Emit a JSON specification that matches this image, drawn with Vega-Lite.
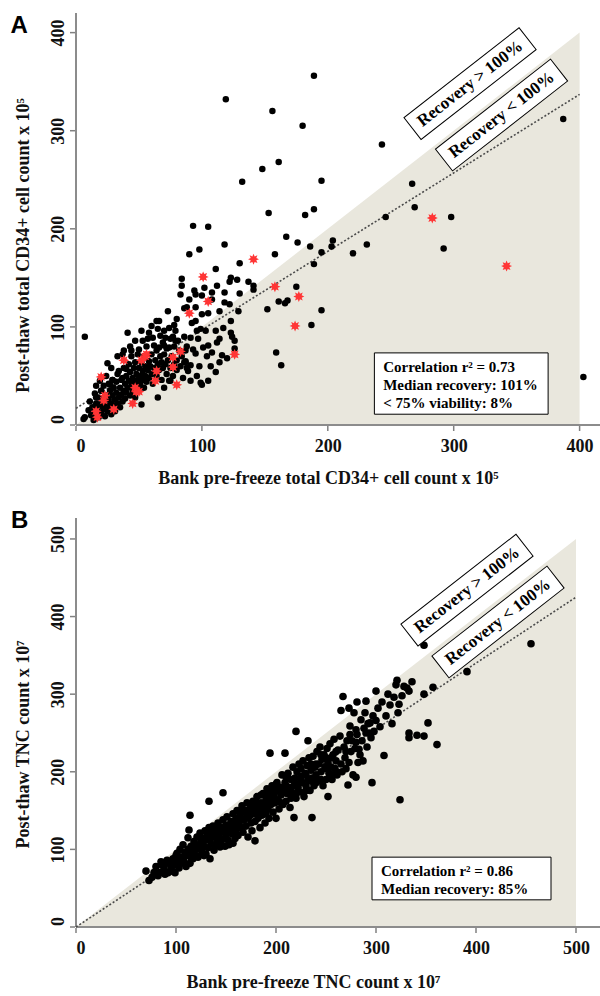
{
 "$schema": "https://vega.github.io/schema/vega-lite/v6.json",
 "background": "white",
 "padding": {"left": 10, "top": 12, "right": 0, "bottom": 0},
 "spacing": 22,
 "datasets": {
  "aTri": [{"x":0,"y":0},{"x":400,"y":400}],
  "aLine": [{"x":0,"y":17},{"x":400,"y":337}],
  "aAxisY": [{"x":0,"y":0,"y2":420}],
  "aAxisX": [{"x":0,"x2":417,"y":0}],
  "aTicksY": [{"x":0,"y":0},{"x":0,"y":100},{"x":0,"y":200},{"x":0,"y":300},{"x":0,"y":400}],
  "aTicksX": [{"x":0,"y":0},{"x":100,"y":0},{"x":200,"y":0},{"x":300,"y":0},{"x":400,"y":0}],
  "aPanel": [{"x":-52,"y":400,"label":"A"}],
  "bTri": [{"x":0,"y":0},{"x":500,"y":500}],
  "bLine": [{"x":0,"y":0},{"x":500,"y":425}],
  "bAxisY": [{"x":0,"y":0,"y2":527}],
  "bAxisX": [{"x":0,"x2":525,"y":0}],
  "bTicksY": [{"x":0,"y":0},{"x":0,"y":100},{"x":0,"y":200},{"x":0,"y":300},{"x":0,"y":400},{"x":0,"y":500}],
  "bTicksX": [{"x":0,"y":0},{"x":100,"y":0},{"x":200,"y":0},{"x":300,"y":0},{"x":400,"y":0},{"x":500,"y":0}],
  "bPanel": [{"x":-65,"y":514,"label":"B"}],
  "aAnn": [{"x":313,"y":348,"label":"Recovery > 100%"},{"x":338,"y":316,"label":"Recovery < 100%"}],
  "aStatBox": [{"x":237,"x2":375,"y":11,"y2":73.5}],
  "aStats": [{"x":244,"y":54,"label":"Correlation r² = 0.73"},{"x":244,"y":35.6,"label":"Median recovery: 101%"},{"x":244,"y":17.3,"label":"< 75% viability: 8%"}],
  "bAnn": [{"x":391,"y":434,"label":"Recovery > 100%"},{"x":422,"y":393,"label":"Recovery < 100%"}],
  "bStatBox": [{"x":296,"x2":475,"y":35,"y2":90}],
  "bStats": [{"x":305,"y":65.7,"label":"Correlation r² = 0.86"},{"x":305,"y":42.5,"label":"Median recovery: 85%"}],
  "aRed": [{"x":141,"y":169},{"x":101,"y":151},{"x":105,"y":126},{"x":90,"y":114},{"x":126,"y":72},{"x":83,"y":75},{"x":77,"y":69},{"x":77,"y":59},{"x":64,"y":55},{"x":63,"y":45},{"x":80,"y":41},{"x":55,"y":70},{"x":52,"y":66},{"x":38,"y":66},{"x":20,"y":49},{"x":47,"y":38},{"x":50,"y":34},{"x":23,"y":30},{"x":22,"y":25},{"x":45,"y":22},{"x":30,"y":16},{"x":16,"y":14},{"x":17,"y":8},{"x":158,"y":141},{"x":177,"y":131},{"x":174,"y":101},{"x":283,"y":211},{"x":342,"y":162},{"x":56,"y":72},{"x":48,"y":34}],
  "aBlack": [{"x":189,"y":356},{"x":119,"y":332},{"x":156,"y":320},{"x":180,"y":305},{"x":243,"y":286},{"x":161,"y":268},{"x":148,"y":261},{"x":132,"y":248},{"x":195,"y":249},{"x":153,"y":216},{"x":189,"y":220},{"x":182,"y":214},{"x":93,"y":203},{"x":105,"y":202},{"x":246,"y":212},{"x":167,"y":192},{"x":176,"y":186},{"x":204,"y":188},{"x":203,"y":182},{"x":186,"y":182},{"x":231,"y":184},{"x":118,"y":184},{"x":98,"y":179},{"x":90,"y":174},{"x":158,"y":174},{"x":195,"y":176},{"x":220,"y":175},{"x":267,"y":246},{"x":269,"y":222},{"x":298,"y":212},{"x":387,"y":312},{"x":292,"y":180},{"x":189,"y":164},{"x":175,"y":141},{"x":166,"y":124},{"x":168,"y":127},{"x":195,"y":117},{"x":187,"y":102},{"x":163,"y":61},{"x":159,"y":74},{"x":403,"y":49},{"x":130,"y":165},{"x":111,"y":159},{"x":123,"y":150},{"x":122,"y":146},{"x":128,"y":148},{"x":137,"y":146},{"x":141,"y":142},{"x":141,"y":138},{"x":84,"y":149},{"x":84,"y":142},{"x":83,"y":133},{"x":94,"y":137},{"x":95,"y":133},{"x":100,"y":132},{"x":108,"y":135},{"x":112,"y":142},{"x":118,"y":125},{"x":122,"y":123},{"x":130,"y":134},{"x":129,"y":116},{"x":114,"y":116},{"x":100,"y":113},{"x":105,"y":114},{"x":73,"y":116},{"x":86,"y":119},{"x":152,"y":118},{"x":161,"y":126},{"x":126,"y":86},{"x":126,"y":78},{"x":123,"y":94},{"x":124,"y":90},{"x":117,"y":99},{"x":123,"y":106},{"x":111,"y":96},{"x":114,"y":88},{"x":108,"y":74},{"x":116,"y":71},{"x":114,"y":64},{"x":111,"y":54},{"x":99,"y":43},{"x":100,"y":41},{"x":101,"y":79},{"x":105,"y":81},{"x":96,"y":96},{"x":99,"y":98},{"x":103,"y":96},{"x":92,"y":104},{"x":95,"y":106},{"x":87,"y":65},{"x":88,"y":58},{"x":79,"y":96},{"x":81,"y":86},{"x":7,"y":90},{"x":6,"y":6},{"x":91,"y":89},{"x":97,"y":88},{"x":87,"y":76},{"x":93,"y":77},{"x":95,"y":73},{"x":87,"y":64},{"x":91,"y":61},{"x":85,"y":48},{"x":64,"y":106},{"x":60,"y":101},{"x":65,"y":98},{"x":70,"y":96},{"x":74,"y":99},{"x":41,"y":94},{"x":57,"y":88},{"x":53,"y":86},{"x":61,"y":89},{"x":67,"y":91},{"x":71,"y":89},{"x":77,"y":90},{"x":79,"y":86},{"x":82,"y":76},{"x":50,"y":77},{"x":44,"y":76},{"x":37,"y":72},{"x":62,"y":81},{"x":66,"y":79},{"x":70,"y":81},{"x":74,"y":79},{"x":25,"y":63},{"x":34,"y":55},{"x":40,"y":57},{"x":27,"y":41},{"x":29,"y":46},{"x":37,"y":48},{"x":16,"y":40},{"x":20,"y":35},{"x":16,"y":28},{"x":17,"y":21},{"x":15,"y":16},{"x":7,"y":8},{"x":52,"y":21},{"x":65,"y":28},{"x":70,"y":38},{"x":75,"y":45},{"x":91,"y":45},{"x":12,"y":10},{"x":13,"y":18},{"x":14,"y":5},{"x":15,"y":12},{"x":16,"y":22},{"x":17,"y":15},{"x":18,"y":8},{"x":18,"y":28},{"x":19,"y":19},{"x":20,"y":12},{"x":20,"y":35},{"x":21,"y":24},{"x":22,"y":16},{"x":22,"y":40},{"x":23,"y":9},{"x":24,"y":20},{"x":24,"y":30},{"x":25,"y":14},{"x":26,"y":26},{"x":26,"y":42},{"x":27,"y":18},{"x":27,"y":35},{"x":28,"y":11},{"x":28,"y":22},{"x":29,"y":30},{"x":29,"y":46},{"x":30,"y":20},{"x":30,"y":38},{"x":31,"y":26},{"x":31,"y":14},{"x":32,"y":33},{"x":32,"y":44},{"x":33,"y":22},{"x":33,"y":52},{"x":34,"y":28},{"x":35,"y":18},{"x":35,"y":38},{"x":36,"y":31},{"x":36,"y":46},{"x":37,"y":24},{"x":38,"y":35},{"x":38,"y":58},{"x":39,"y":42},{"x":39,"y":27},{"x":40,"y":50},{"x":40,"y":33},{"x":41,"y":38},{"x":42,"y":45},{"x":42,"y":62},{"x":43,"y":30},{"x":43,"y":54},{"x":44,"y":40},{"x":44,"y":70},{"x":45,"y":48},{"x":45,"y":35},{"x":46,"y":58},{"x":46,"y":44},{"x":47,"y":28},{"x":47,"y":64},{"x":48,"y":52},{"x":48,"y":40},{"x":49,"y":72},{"x":49,"y":46},{"x":50,"y":36},{"x":50,"y":58},{"x":51,"y":50},{"x":51,"y":42},{"x":52,"y":64},{"x":53,"y":46},{"x":53,"y":55},{"x":54,"y":38},{"x":54,"y":70},{"x":55,"y":60},{"x":55,"y":50},{"x":56,"y":44},{"x":56,"y":80},{"x":57,"y":56},{"x":58,"y":65},{"x":58,"y":48},{"x":59,"y":60},{"x":60,"y":52},{"x":60,"y":72},{"x":61,"y":42},{"x":62,"y":58},{"x":63,"y":66},{"x":64,"y":50},{"x":64,"y":76},{"x":65,"y":62},{"x":66,"y":56},{"x":67,"y":70},{"x":68,"y":46},{"x":68,"y":64},{"x":69,"y":84},{"x":69,"y":58},{"x":70,"y":72},{"x":71,"y":62},{"x":72,"y":52},{"x":72,"y":78},{"x":73,"y":66},{"x":74,"y":45},{"x":75,"y":58},{"x":75,"y":88},{"x":76,"y":70},{"x":77,"y":50},{"x":78,"y":62},{"x":78,"y":80},{"x":80,"y":66},{"x":80,"y":56},{"x":83,"y":60},{"x":84,"y":70},{"x":86,"y":90},{"x":86,"y":64},{"x":88,"y":80},{"x":89,"y":55},{"x":98,"y":60},{"x":104,"y":70},{"x":107,"y":60},{"x":112,"y":84},{"x":120,"y":68},{"x":105,"y":45},{"x":96,"y":50},{"x":118,"y":135},{"x":108,"y":128},{"x":102,"y":140},{"x":90,"y":128},{"x":88,"y":120},{"x":95,"y":120},{"x":80,"y":108},{"x":78,"y":102},{"x":66,"y":106},{"x":58,"y":94},{"x":52,"y":96},{"x":47,"y":86},{"x":43,"y":80},{"x":38,"y":76},{"x":33,"y":70},{"x":28,"y":58},{"x":24,"y":50},{"x":19,"y":45},{"x":15,"y":32},{"x":11,"y":24},{"x":10,"y":15}],
  "bBlack": [{"x":70,"y":72},{"x":73,"y":60},{"x":76,"y":64},{"x":78,"y":70},{"x":80,"y":78},{"x":82,"y":66},{"x":84,"y":70},{"x":85,"y":84},{"x":86,"y":80},{"x":88,"y":74},{"x":89,"y":68},{"x":90,"y":82},{"x":91,"y":86},{"x":92,"y":70},{"x":94,"y":84},{"x":95,"y":78},{"x":96,"y":72},{"x":97,"y":88},{"x":98,"y":81},{"x":99,"y":70},{"x":100,"y":80},{"x":100,"y":92},{"x":101,"y":95},{"x":102,"y":86},{"x":103,"y":76},{"x":104,"y":100},{"x":105,"y":82},{"x":106,"y":90},{"x":107,"y":106},{"x":108,"y":84},{"x":109,"y":96},{"x":110,"y":78},{"x":111,"y":92},{"x":112,"y":115},{"x":112,"y":100},{"x":113,"y":125},{"x":114,"y":144},{"x":114,"y":82},{"x":115,"y":104},{"x":116,"y":96},{"x":117,"y":88},{"x":118,"y":110},{"x":119,"y":100},{"x":120,"y":106},{"x":120,"y":92},{"x":121,"y":116},{"x":122,"y":90},{"x":123,"y":102},{"x":124,"y":121},{"x":125,"y":110},{"x":126,"y":96},{"x":127,"y":114},{"x":128,"y":104},{"x":128,"y":92},{"x":129,"y":124},{"x":130,"y":94},{"x":130,"y":112},{"x":131,"y":120},{"x":132,"y":102},{"x":133,"y":162},{"x":133,"y":128},{"x":134,"y":88},{"x":134,"y":114},{"x":135,"y":107},{"x":136,"y":121},{"x":137,"y":130},{"x":138,"y":99},{"x":139,"y":116},{"x":140,"y":126},{"x":140,"y":106},{"x":141,"y":110},{"x":142,"y":134},{"x":143,"y":120},{"x":144,"y":103},{"x":145,"y":128},{"x":146,"y":113},{"x":147,"y":173},{"x":147,"y":138},{"x":148,"y":122},{"x":149,"y":104},{"x":150,"y":131},{"x":150,"y":118},{"x":151,"y":142},{"x":152,"y":112},{"x":153,"y":106},{"x":154,"y":126},{"x":155,"y":136},{"x":156,"y":120},{"x":157,"y":146},{"x":157,"y":108},{"x":158,"y":130},{"x":159,"y":114},{"x":160,"y":140},{"x":160,"y":124},{"x":161,"y":150},{"x":162,"y":118},{"x":163,"y":134},{"x":164,"y":144},{"x":165,"y":128},{"x":166,"y":156},{"x":167,"y":122},{"x":168,"y":138},{"x":169,"y":148},{"x":170,"y":130},{"x":171,"y":160},{"x":172,"y":116},{"x":173,"y":142},{"x":174,"y":152},{"x":175,"y":134},{"x":176,"y":124},{"x":177,"y":162},{"x":178,"y":146},{"x":179,"y":111},{"x":179,"y":136},{"x":180,"y":156},{"x":181,"y":168},{"x":182,"y":140},{"x":183,"y":150},{"x":184,"y":128},{"x":185,"y":160},{"x":186,"y":144},{"x":187,"y":172},{"x":188,"y":154},{"x":189,"y":134},{"x":190,"y":164},{"x":190,"y":146},{"x":191,"y":178},{"x":192,"y":152},{"x":193,"y":140},{"x":194,"y":224},{"x":194,"y":166},{"x":195,"y":158},{"x":196,"y":182},{"x":197,"y":148},{"x":198,"y":170},{"x":199,"y":160},{"x":200,"y":176},{"x":200,"y":140},{"x":201,"y":186},{"x":202,"y":164},{"x":203,"y":152},{"x":204,"y":180},{"x":205,"y":170},{"x":206,"y":196},{"x":207,"y":158},{"x":208,"y":176},{"x":209,"y":224},{"x":209,"y":186},{"x":210,"y":162},{"x":211,"y":172},{"x":212,"y":198},{"x":213,"y":180},{"x":214,"y":154},{"x":215,"y":190},{"x":216,"y":170},{"x":217,"y":206},{"x":218,"y":141},{"x":218,"y":182},{"x":219,"y":192},{"x":220,"y":252},{"x":220,"y":166},{"x":221,"y":200},{"x":222,"y":180},{"x":223,"y":210},{"x":224,"y":174},{"x":225,"y":194},{"x":226,"y":186},{"x":227,"y":214},{"x":228,"y":168},{"x":229,"y":198},{"x":230,"y":182},{"x":231,"y":208},{"x":232,"y":240},{"x":232,"y":190},{"x":233,"y":218},{"x":234,"y":176},{"x":235,"y":202},{"x":236,"y":141},{"x":236,"y":192},{"x":237,"y":220},{"x":238,"y":182},{"x":239,"y":206},{"x":240,"y":196},{"x":241,"y":226},{"x":242,"y":188},{"x":243,"y":210},{"x":244,"y":232},{"x":245,"y":200},{"x":246,"y":216},{"x":247,"y":182},{"x":248,"y":222},{"x":249,"y":206},{"x":250,"y":190},{"x":251,"y":230},{"x":252,"y":168},{"x":252,"y":212},{"x":253,"y":198},{"x":254,"y":236},{"x":255,"y":206},{"x":256,"y":190},{"x":257,"y":222},{"x":258,"y":242},{"x":259,"y":204},{"x":260,"y":214},{"x":261,"y":196},{"x":262,"y":228},{"x":264,"y":246},{"x":265,"y":279},{"x":265,"y":210},{"x":266,"y":200},{"x":267,"y":297},{"x":268,"y":232},{"x":269,"y":218},{"x":270,"y":204},{"x":271,"y":240},{"x":272,"y":183},{"x":273,"y":282},{"x":273,"y":212},{"x":274,"y":259},{"x":274,"y":248},{"x":275,"y":226},{"x":276,"y":240},{"x":277,"y":196},{"x":278,"y":276},{"x":279,"y":230},{"x":280,"y":193},{"x":280,"y":254},{"x":281,"y":290},{"x":281,"y":248},{"x":282,"y":212},{"x":283,"y":229},{"x":284,"y":222},{"x":285,"y":267},{"x":286,"y":240},{"x":287,"y":214},{"x":288,"y":256},{"x":289,"y":276},{"x":290,"y":291},{"x":291,"y":232},{"x":292,"y":262},{"x":293,"y":250},{"x":294,"y":263},{"x":295,"y":244},{"x":296,"y":186},{"x":297,"y":272},{"x":298,"y":252},{"x":300,"y":304},{"x":300,"y":266},{"x":302,"y":282},{"x":304,"y":258},{"x":306,"y":290},{"x":308,"y":221},{"x":310,"y":272},{"x":312,"y":300},{"x":314,"y":286},{"x":316,"y":262},{"x":318,"y":296},{"x":320,"y":312},{"x":321,"y":318},{"x":322,"y":276},{"x":323,"y":287},{"x":324,"y":164},{"x":326,"y":298},{"x":328,"y":310},{"x":331,"y":308},{"x":333,"y":304},{"x":333,"y":250},{"x":333,"y":244},{"x":336,"y":316},{"x":341,"y":247},{"x":348,"y":246},{"x":348,"y":300},{"x":348,"y":363},{"x":352,"y":263},{"x":357,"y":309},{"x":361,"y":235},{"x":391,"y":329},{"x":455,"y":365},{"x":150,"y":125},{"x":155,"y":128},{"x":160,"y":132},{"x":165,"y":138},{"x":170,"y":140},{"x":175,"y":145},{"x":180,"y":148},{"x":185,"y":152},{"x":190,"y":156},{"x":195,"y":168},{"x":200,"y":162},{"x":205,"y":178},{"x":210,"y":182},{"x":215,"y":176},{"x":220,"y":184},{"x":225,"y":188},{"x":230,"y":196},{"x":235,"y":188},{"x":240,"y":210},{"x":245,"y":190},{"x":250,"y":204},{"x":255,"y":218},{"x":260,"y":226},{"x":165,"y":150},{"x":175,"y":156},{"x":185,"y":170},{"x":195,"y":176},{"x":205,"y":160},{"x":215,"y":166},{"x":225,"y":204},{"x":235,"y":210},{"x":245,"y":222},{"x":255,"y":196},{"x":135,"y":115},{"x":125,"y":100},{"x":115,"y":90},{"x":105,"y":88},{"x":95,"y":74},{"x":140,"y":118},{"x":145,"y":108},{"x":170,"y":150},{"x":180,"y":162},{"x":190,"y":170},{"x":200,"y":184},{"x":210,"y":194},{"x":220,"y":172},{"x":230,"y":176},{"x":240,"y":186},{"x":250,"y":218},{"x":260,"y":200},{"x":270,"y":226},{"x":280,"y":238},{"x":290,"y":250}]
 },
 "vconcat": [
  {
   "width": 525,
   "height": 412,
   "encoding": {
    "x": {"field": "x", "type": "quantitative", "scale": {"domain": [0, 417], "nice": false, "zero": false},
          "axis": {"values": [0, 100, 200, 300, 400], "labelPadding": 12, "title": "Bank pre-freeze total CD34+ cell count x 10⁵", "titleX": 252, "titleY": 44}},
    "y": {"field": "y", "type": "quantitative", "scale": {"domain": [0, 420], "nice": false, "zero": false},
          "axis": {"values": [0, 100, 200, 300, 400], "labelPadding": 9, "title": "Post-thaw total CD34+ cell count x 10⁵", "titleX": -44, "titleY": 232,
                   "labelOffset": {"condition": {"test": "datum.value === 0", "value": -6}, "value": 0}}}
   },
   "layer": [
    {"data": {"name": "aTri"}, "mark": {"type": "area", "color": "#e9e7dd", "opacity": 1}, "encoding": {"y2": {"datum": 0}}},
    {"data": {"name": "aAxisY"}, "mark": {"type": "rule", "color": "#8c8c8c", "strokeWidth": 2, "opacity": 1}, "encoding": {"y2": {"field": "y2"}}},
    {"data": {"name": "aAxisX"}, "mark": {"type": "rule", "color": "#8c8c8c", "strokeWidth": 2, "opacity": 1}, "encoding": {"x2": {"field": "x2"}}},
    {"data": {"name": "aTicksY"}, "mark": {"type": "tick", "orient": "horizontal", "color": "#808080", "size": 5, "thickness": 1.5, "xOffset": -3.5, "opacity": 1}},
    {"data": {"name": "aTicksX"}, "mark": {"type": "tick", "orient": "vertical", "color": "#808080", "size": 5, "thickness": 1.5, "yOffset": 3.5, "opacity": 1}},
    {"data": {"name": "aLine"}, "mark": {"type": "line", "color": "#4a4a4a", "strokeDash": [2, 2], "strokeWidth": 1.6}, "encoding": {}},
    {"data": {"name": "aBlack"}, "mark": {"type": "circle", "color": "#000000", "opacity": 1, "size": 42}},
    {"data": {"name": "aRed"}, "mark": {"type": "point", "shape": "M1,0L0.51,0.21L0.71,0.71L0.21,0.51L0,1L-0.21,0.51L-0.71,0.71L-0.51,0.21L-1,0L-0.51,-0.21L-0.71,-0.71L-0.21,-0.51L0,-1L0.21,-0.51L0.71,-0.71L0.51,-0.21Z", "filled": true, "color": "#ff3535", "opacity": 1, "size": 120}},
    {"data": {"name": "aAnn"}, "mark": {"type": "point", "shape": "M-5,-0.95L5,-0.95L5,0.95L-5,0.95Z", "size": 853, "angle": -38, "filled": true, "fill": "white", "stroke": "black", "strokeWidth": 1, "opacity": 1}},
    {"data": {"name": "aAnn"}, "mark": {"type": "text", "angle": -38, "align": "center", "baseline": "middle", "font": "Liberation Serif", "fontWeight": "bold", "fontSize": 17, "color": "black"},
     "encoding": {"text": {"field": "label"}}},
    {"data": {"name": "aStatBox"}, "mark": {"type": "rect", "fill": "white", "stroke": "black", "strokeWidth": 1},
     "encoding": {"x2": {"field": "x2"}, "y2": {"field": "y2"}}},
    {"data": {"name": "aStats"}, "mark": {"type": "text", "align": "left", "baseline": "alphabetic", "font": "Liberation Serif", "fontWeight": "bold", "fontSize": 15, "color": "black"},
     "encoding": {"text": {"field": "label"}}},
    {"data": {"name": "aPanel"}, "mark": {"type": "text", "align": "left", "baseline": "alphabetic", "font": "Liberation Sans", "fontWeight": "bold", "fontSize": 24, "color": "black"},
     "encoding": {"text": {"field": "label"}}}
   ]
  },
  {
   "width": 525,
   "height": 409,
   "encoding": {
    "x": {"field": "x", "type": "quantitative", "scale": {"domain": [0, 525], "nice": false, "zero": false},
          "axis": {"values": [0, 100, 200, 300, 400, 500], "labelPadding": 12, "title": "Bank pre-freeze TNC count x 10⁷", "titleX": 237, "titleY": 46}},
    "y": {"field": "y", "type": "quantitative", "scale": {"domain": [0, 527], "nice": false, "zero": false},
          "axis": {"values": [0, 100, 200, 300, 400, 500], "labelPadding": 9, "title": "Post-thaw TNC count x 10⁷", "titleX": -44, "titleY": 226,
                   "labelOffset": {"condition": {"test": "datum.value === 0", "value": -6}, "value": 0}}}
   },
   "layer": [
    {"data": {"name": "bTri"}, "mark": {"type": "area", "color": "#e9e7dd", "opacity": 1}, "encoding": {"y2": {"datum": 0}}},
    {"data": {"name": "bAxisY"}, "mark": {"type": "rule", "color": "#8c8c8c", "strokeWidth": 2, "opacity": 1}, "encoding": {"y2": {"field": "y2"}}},
    {"data": {"name": "bAxisX"}, "mark": {"type": "rule", "color": "#8c8c8c", "strokeWidth": 2, "opacity": 1}, "encoding": {"x2": {"field": "x2"}}},
    {"data": {"name": "bTicksY"}, "mark": {"type": "tick", "orient": "horizontal", "color": "#808080", "size": 5, "thickness": 1.5, "xOffset": -3.5, "opacity": 1}},
    {"data": {"name": "bTicksX"}, "mark": {"type": "tick", "orient": "vertical", "color": "#808080", "size": 5, "thickness": 1.5, "yOffset": 3.5, "opacity": 1}},
    {"data": {"name": "bLine"}, "mark": {"type": "line", "color": "#4a4a4a", "strokeDash": [2, 2], "strokeWidth": 1.6}, "encoding": {}},
    {"data": {"name": "bBlack"}, "mark": {"type": "circle", "color": "#000000", "opacity": 1, "size": 58}},
    {"data": {"name": "bAnn"}, "mark": {"type": "point", "shape": "M-5,-0.95L5,-0.95L5,0.95L-5,0.95Z", "size": 853, "angle": -38, "filled": true, "fill": "white", "stroke": "black", "strokeWidth": 1, "opacity": 1}},
    {"data": {"name": "bAnn"}, "mark": {"type": "text", "angle": -38, "align": "center", "baseline": "middle", "font": "Liberation Serif", "fontWeight": "bold", "fontSize": 17, "color": "black"},
     "encoding": {"text": {"field": "label"}}},
    {"data": {"name": "bStatBox"}, "mark": {"type": "rect", "fill": "white", "stroke": "black", "strokeWidth": 1},
     "encoding": {"x2": {"field": "x2"}, "y2": {"field": "y2"}}},
    {"data": {"name": "bStats"}, "mark": {"type": "text", "align": "left", "baseline": "alphabetic", "font": "Liberation Serif", "fontWeight": "bold", "fontSize": 15, "color": "black"},
     "encoding": {"text": {"field": "label"}}},
    {"data": {"name": "bPanel"}, "mark": {"type": "text", "align": "left", "baseline": "alphabetic", "font": "Liberation Sans", "fontWeight": "bold", "fontSize": 24, "color": "black"},
     "encoding": {"text": {"field": "label"}}}
   ]
  }
 ],
 "config": {
  "view": {"stroke": null},
  "axis": {"grid": false, "domain": false, "ticks": false,
           "labelFont": "Liberation Serif", "labelFontWeight": "bold", "labelFontSize": 18, "labelColor": "#111111",
           "titleFont": "Liberation Serif", "titleFontWeight": "bold", "titleFontSize": 18, "titleColor": "#111111"},
  "axisY": {"labelAngle": -90, "labelAlign": "center", "labelBaseline": "bottom"}
 }
}
